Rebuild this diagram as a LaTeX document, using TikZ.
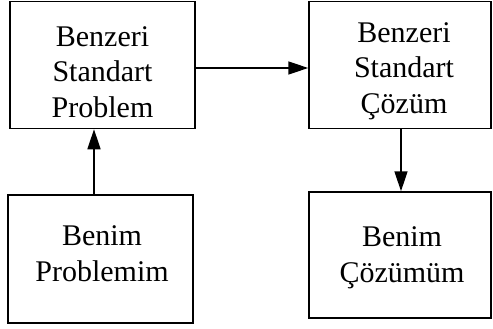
\documentclass[tikz,border=0pt]{standalone}
\usepackage{fontspec}
\setmainfont{Liberation Serif}
\usetikzlibrary{arrows.meta}
\begin{document}
\begin{tikzpicture}[x=1pt,y=-1pt,
  box/.style={draw,line width=1.5pt,rectangle,inner sep=0pt},
  txt/.style={align=center,inner sep=0pt,font=\fontsize{30}{35.5}\selectfont},
  arr/.style={line width=1.5pt,-{Triangle[length=20pt,width=13pt]}}]
\useasboundingbox (0,0) rectangle (493,329);
\node[box,minimum width=185pt,minimum height=127pt] (b1) at (102.5,65) {};
\node[box,minimum width=182pt,minimum height=127pt] (b2) at (400,65) {};
\node[box,minimum width=185pt,minimum height=128pt] (b3) at (100.5,259) {};
\node[box,minimum width=182pt,minimum height=126pt] (b4) at (400,255) {};
\node[txt] (t1) at ([yshift=-7pt]b1.center) {Benzeri\\Standart\\Problem};
\node[txt] (t2) at ([xshift=4pt,yshift=-6pt]b2.center) {Benzeri\\Standart\\Çözüm};
\node[txt] (t3) at ([xshift=1.5pt,yshift=5.5pt]b3.center) {Benim\\Problemim};
\node[txt] (t4) at ([xshift=2pt,yshift=-3pt]b4.center) {Benim\\Çözümüm};
\draw[arr] ([yshift=-3pt]b1.east) -- ([yshift=-3pt]b2.west);
\draw[arr] (b3.north -| 94,0) -- (b1.south -| 94,0);
\draw[arr] (b2.south -| 401,0) -- (b4.north -| 401,0);
\end{tikzpicture}
\end{document}
